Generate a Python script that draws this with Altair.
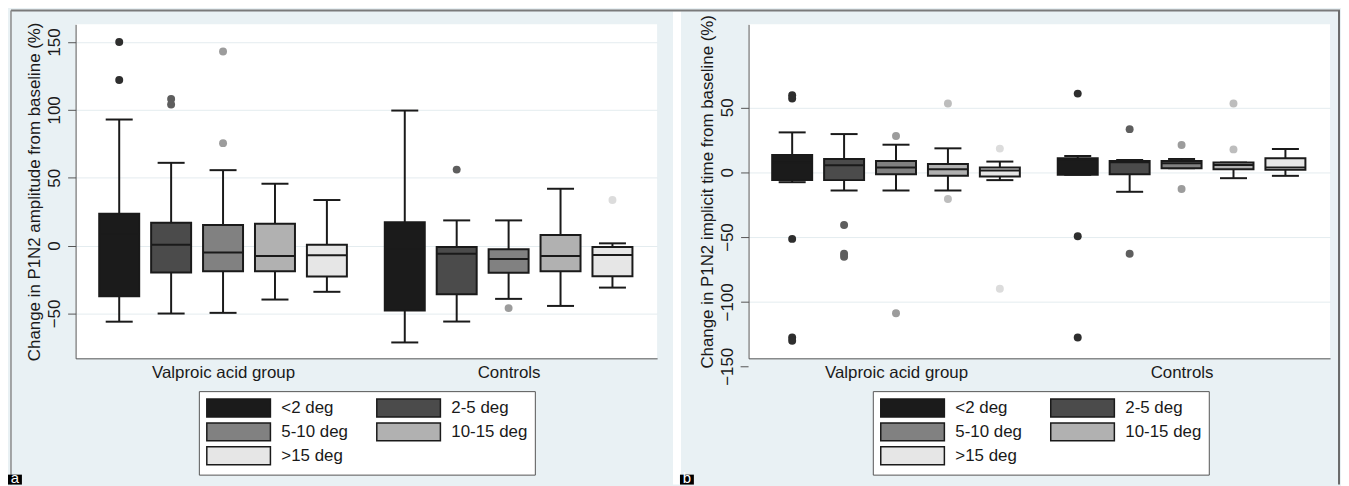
import altair as alt
import pandas as pd

FONT = "Liberation Sans"
FS = 17

GROUPS = ["Valproic acid group", "Controls"]
ECC = ["<2 deg", "2-5 deg", "5-10 deg", "10-15 deg", ">15 deg"]
BOX_FILL = ["#1b1b1b", "#4b4b4b", "#818181", "#b1b1b1", "#e6e6e6"]
DOT_FILL = ["#2e2e2e", "#5e5e5e", "#9c9c9c", "#bdbdbd", "#dcdcdc"]

# Panel a: change in P1N2 amplitude from baseline (%); order = group x eccentricity
A_LOW = [-56, -50, -49.5, -39.7, -34, -71.3, -55.9, -39.2, -44.4, -30.9]
A_Q1 = [-37.2, -19.8, -18.9, -18.9, -22.8, -47.8, -35.8, -19.9, -18.9, -22.5]
A_MED = [8.6, 0.7, -5.1, -7.7, -7, -2.5, -5.9, -9.8, -7.6, -6.9]
A_Q3 = [23.5, 16.9, 15.2, 16.2, 0.7, 17.2, -1, -2.7, 7.8, -1]
A_HIGH = [92.9, 61, 55.6, 45.6, 33.6, 99.5, 18.6, 18.6, 41.9, 1.7]
A_OUT_GROUP = [0, 0, 0, 0, 0, 0, 1, 1, 1]
A_OUT_ECC = [0, 0, 1, 1, 2, 2, 1, 2, 4]
A_OUT_VALUE = [150, 122, 108, 104, 143, 75.5, 56, -46, 33.6]

# Panel b: change in P1N2 implicit time from baseline (%)
B_LOW = [-7.7, -14.1, -14.1, -14.1, -6.1, -2, -15.1, 3.1, -4.6, -2.8]
B_Q1 = [-6.1, -6.1, -1.5, -2.8, -3.3, -2, -1.5, 3.1, 2.3, 1.8]
B_MED = [7.7, 5.4, 3.6, 2.3, 1.3, 10, 7.7, 6.9, 5.6, 3.6]
B_Q3 = [13.3, 10.2, 8.7, 6.4, 3.6, 10.7, 8.7, 8.7, 7.4, 10.7]
B_HIGH = [30.7, 29.4, 21.2, 18.4, 8.2, 12.5, 9.4, 10.2, 7.4, 17.9]
B_OUT_GROUP = [0, 0, 0, 0, 0, 0, 0, 0, 0, 0, 0, 0, 0, 0,
               1, 1, 1, 1, 1, 1, 1, 1, 1]
B_OUT_ECC = [0, 0, 0, 0, 0, 1, 1, 1, 2, 2, 3, 3, 4, 4,
             0, 0, 0, 1, 1, 2, 2, 3, 3]
B_OUT_VALUE = [59.3, 56.8, -51.4, -127.4, -130, -40.7, -62.9, -65.2, 27.9, -108.7,
               52.9, -20.7, 18.2, -89.8, 60.6, -49.4, -127.4, 33.2, -62.9, 21, -13,
               52.9, 17.6]

A_TICKS = [150, 100, 50, 0, -50]
B_TICKS = [50, 0, -50, -100, -150]
A_DOMAIN = [-83, 163]
B_DOMAIN = [-143.5, 114]
A_TITLE = "Change in P1N2 amplitude from baseline (%)"
B_TITLE = "Change in P1N2 implicit time from baseline (%)"


def stats_frame(low, q1, med, q3, high):
    rows = []
    k = 0
    for gi, g in enumerate(GROUPS):
        for ei, e in enumerate(ECC):
            rows.append(dict(group=g, ecc=e, gi=gi, ei=ei, low=low[k], q1=q1[k],
                             med=med[k], q3=q3[k], high=high[k]))
            k += 1
    return pd.DataFrame(rows)


def out_frame(gs, es, vs):
    return pd.DataFrame(dict(gi=gs, ei=es, ecc=[ECC[e] for e in es], value=vs))


POS = "datum.ei + 5.5 * datum.gi"
INK = "#1a1a1a"
AXC = "#555555"


def panel(stats, outs, ydom, yticks, ytitle, letter, legend_x, is_left):
    xs = alt.Scale(domain=[-0.84, 10.36], nice=False, zero=False)
    ys = alt.Scale(domain=ydom, nice=False, zero=False)
    label_expr = f"datum.value < 5 ? '{GROUPS[0]}' : '{GROUPS[1]}'"
    xaxis = alt.Axis(values=[2, 7.5], labelExpr=label_expr, ticks=False, grid=False,
                     title=None, domainColor=AXC, labelFontSize=FS, labelPadding=6,
                     labelColor=INK, labelFont=FONT, labelAngle=0)
    inside = [t for t in yticks if ydom[0] <= t <= ydom[1]]
    outside = [t for t in yticks if not (ydom[0] <= t <= ydom[1])]
    yaxis = alt.Axis(values=inside, grid=True, gridColor="#e4ecef", gridWidth=1,
                     title=ytitle, tickSize=8, tickColor=AXC,
                     domainColor=AXC, labelAngle=270, labelAlign="center",
                     labelBaseline="bottom", labelPadding=4, labelFontSize=FS,
                     labelFont=FONT, labelColor=INK, titleFont=FONT, titleFontSize=FS,
                     titleFontWeight="normal", titlePadding=2, titleColor=INK)

    base = (alt.Chart(stats)
            .transform_calculate(pos=POS)
            .transform_calculate(bl="datum.pos - 0.385", br="datum.pos + 0.385",
                                 cl="datum.pos - 0.26", cr="datum.pos + 0.26"))

    whisk = base.mark_rule(color=INK, strokeWidth=2).encode(
        x=alt.X("pos:Q", scale=xs, axis=xaxis),
        y=alt.Y("low:Q", scale=ys, axis=yaxis), y2="high:Q")
    cap_lo = base.mark_rule(color=INK, strokeWidth=2).encode(
        x=alt.X("cl:Q", scale=xs, axis=xaxis), x2="cr:Q",
        y=alt.Y("low:Q", scale=ys, axis=yaxis))
    cap_hi = base.mark_rule(color=INK, strokeWidth=2).encode(
        x=alt.X("cl:Q", scale=xs, axis=xaxis), x2="cr:Q",
        y=alt.Y("high:Q", scale=ys, axis=yaxis))
    legend = alt.Legend(title=None, orient="none", legendX=legend_x, legendY=369,
                        columns=2, direction="horizontal",
                        symbolType="M-1,-1H6.111V1H-1Z", symbolSize=324,
                        symbolStrokeColor=INK, symbolStrokeWidth=1.5, symbolOpacity=1,
                        labelFont=FONT, labelFontSize=FS, labelColor=INK, labelOffset=56,
                        rowPadding=0, columnPadding=25, padding=7, strokeColor=AXC,
                        fillColor="white", labelLimit=300)
    box = base.mark_rect(stroke=INK, strokeWidth=2, opacity=1).encode(
        x=alt.X("bl:Q", scale=xs, axis=xaxis), x2="br:Q",
        y=alt.Y("q1:Q", scale=ys, axis=yaxis), y2="q3:Q",
        fill=alt.Fill("ecc:N", scale=alt.Scale(domain=ECC, range=BOX_FILL), legend=legend))
    med = base.mark_rule(color=INK, strokeWidth=2).encode(
        x=alt.X("bl:Q", scale=xs, axis=xaxis), x2="br:Q",
        y=alt.Y("med:Q", scale=ys, axis=yaxis))
    dots = alt.Chart(outs).transform_calculate(pos=POS).mark_circle(size=64, opacity=1).encode(
        x=alt.X("pos:Q", scale=xs, axis=xaxis),
        y=alt.Y("value:Q", scale=ys, axis=yaxis),
        color=alt.Color("ecc:N", scale=alt.Scale(domain=ECC, range=DOT_FILL), legend=None))

    layers = [whisk, cap_lo, cap_hi, box, med, dots]

    # tick labels that Stata draws just below the plot region
    if outside:
        odf = pd.DataFrame({"t": outside})
        layers.append(alt.Chart(odf).mark_rule(color=AXC, strokeWidth=1).encode(
            x=alt.value(-8), x2=alt.value(0),
            y=alt.Y("t:Q", scale=ys, axis=yaxis)))
        layers.append(alt.Chart(odf).mark_text(
            angle=270, fontSize=FS, font=FONT, color=INK, align="center",
            baseline="bottom").encode(
            x=alt.value(-12), y=alt.Y("t:Q", scale=ys, axis=yaxis),
            text=alt.Text("t:Q")))

    one = pd.DataFrame({"k": [0]})
    if is_left:
        layers.append(alt.Chart(one).mark_rect(color="white").encode(
            x=alt.value(601), x2=alt.value(609), y=alt.value(-13), y2=alt.value(463)))
        layers.append(alt.Chart(one).mark_rule(color="#7a7a7a", strokeWidth=2).encode(
            x=alt.value(-65), x2=alt.value(1272), y=alt.value(-14)))
        layers.append(alt.Chart(one).mark_rule(color="#8a8a8a", strokeWidth=1.5).encode(
            x=alt.value(-65), y=alt.value(-14), y2=alt.value(463)))
        lx = -68
    else:
        layers.append(alt.Chart(one).mark_rule(color="#6a6a6a", strokeWidth=2).encode(
            x=alt.value(594), y=alt.value(-14), y2=alt.value(463)))
        lx = -69
    layers.append(alt.Chart(one).mark_rect(color="black").encode(
        x=alt.value(lx), x2=alt.value(lx + 14), y=alt.value(453), y2=alt.value(463)))
    layers.append(alt.Chart(one).mark_text(color="white", fontSize=15, font=FONT,
                                           align="center", baseline="alphabetic").encode(
        x=alt.value(lx + 7), y=alt.value(461.5), text=alt.value(letter)))

    return alt.layer(*layers).properties(width=585, height=336)


pa = panel(stats_frame(A_LOW, A_Q1, A_MED, A_Q3, A_HIGH),
           out_frame(A_OUT_GROUP, A_OUT_ECC, A_OUT_VALUE),
           A_DOMAIN, A_TICKS, A_TITLE, "a", 124, True)
pb = panel(stats_frame(B_LOW, B_Q1, B_MED, B_Q3, B_HIGH),
           out_frame(B_OUT_GROUP, B_OUT_ECC, B_OUT_VALUE),
           B_DOMAIN, B_TICKS, B_TITLE, "b", 125, False)

chart = (alt.hconcat(pa, pb, spacing=92, bounds="flush")
         .resolve_scale(x="independent", y="independent", fill="independent",
                        color="independent")
         .resolve_legend(fill="independent")
         .properties(padding={"left": 0, "top": 0, "right": 0, "bottom": 0},
                     background="#e9f1f4")
         .configure(font=FONT)
         .configure_view(stroke=None, fill="white"))

chart.save("out.html", embed_options={"renderer": "svg", "actions": False})
